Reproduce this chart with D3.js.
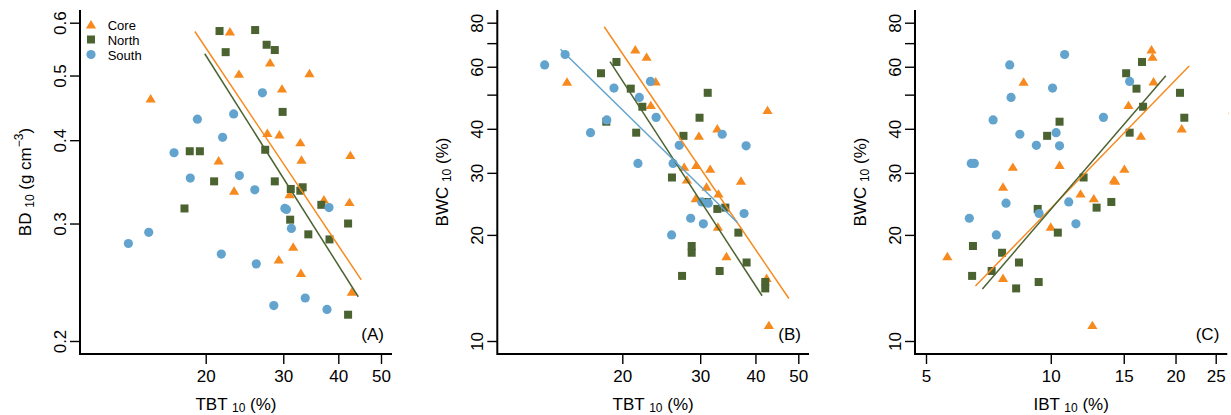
<!DOCTYPE html>
<html>
<head>
<meta charset="utf-8">
<script src="https://cdn.jsdelivr.net/npm/d3@7"></script>
<style>
body { margin: 0; background: #fff; }
svg { display: block; font-family: "Liberation Sans", Arial, Helvetica, sans-serif; }
</style>
</head>
<body>
<svg id="chart" width="1231" height="415"></svg>
<script>
// Core samples
const coreTBT = [21.4, 22.7, 15.0, 23.8, 23.2, 42.6, 32.8, 29.8, 27.6, 29.4, 31.6, 28.0, 37.1, 31.0, 33.0, 29.3, 32.9, 34.4, 42.4, 42.9]
const coreBD  = [0.373, 0.582, 0.462, 0.503, 0.336, 0.380, 0.397, 0.478, 0.410, 0.408, 0.277, 0.523, 0.326, 0.332, 0.374, 0.265, 0.253, 0.504, 0.323, 0.237]
const coreBWC = [67.2, 64.0, 54.4, 54.5, 46.7, 45.2, 40.1, 38.2, 31.2, 31.6, 30.8, 28.7, 28.5, 27.4, 26.2, 25.4, 21.1, 17.4, 15.1, 11.1]
const coreIBT = [17.5, 17.6, 8.6, 17.7, 15.4, 27.5, 20.7, 16.5, 8.1, 10.5, 15.05, 14.2, 14.3, 7.67, 11.8, 12.7, 10.0, 5.63, 7.67, 12.6]

// North samples
const northTBT = [21.5, 25.9, 22.2, 27.5, 27.3, 28.7, 28.7, 29.9, 18.4, 19.4, 20.9, 31.2, 31.1, 33.2, 17.9, 36.6, 42.1, 42.1, 34.2, 38.2, 32.8]
const northBD  = [0.583, 0.585, 0.542, 0.556, 0.387, 0.546, 0.347, 0.441, 0.385, 0.385, 0.347, 0.338, 0.304, 0.340, 0.316, 0.320, 0.300, 0.219, 0.289, 0.284, 0.336]
const northBWC = [39.0, 29.1, 46.2, 38.2, 15.3, 18.6, 17.8, 43.0, 41.9, 61.9, 52.0, 50.6, 24.8, 15.8, 57.5, 20.3, 14.7, 14.1, 23.9, 16.7, 23.7]
const northIBT = [15.5, 12.0, 16.7, 9.8, 6.46, 6.49, 7.63, 21.0, 10.5, 16.6, 16.1, 20.5, 14.0, 7.2, 15.2, 10.4, 9.35, 8.25, 12.9, 8.38, 9.3]

// South samples
const southTBT = [13.35, 14.85, 16.95, 18.45, 19.15, 21.85, 21.7, 23.15, 23.85, 25.85, 26.05, 26.9, 28.55, 30.25, 30.5, 31.3, 33.65, 38.1, 37.7]
const southBD  = [0.280, 0.291, 0.383, 0.351, 0.430, 0.404, 0.270, 0.438, 0.354, 0.337, 0.261, 0.471, 0.226, 0.316, 0.315, 0.295, 0.232, 0.317, 0.223]
const southBWC = [60.7, 65.0, 39.0, 42.4, 52.2, 49.1, 31.9, 54.5, 43.1, 20.0, 31.9, 35.9, 22.3, 24.8, 21.5, 24.6, 38.6, 35.8, 23.0]
const southIBT = [7.96, 10.8, 10.3, 7.26, 10.1, 8.02, 6.43, 15.5, 13.4, 7.39, 6.54, 9.23, 6.36, 11.05, 11.5, 7.80, 8.42, 10.5, 9.37]

// fitted lines, endpoints [x, y]
const fitCoreA  = [[18.9, 0.582], [45.1, 0.247]]
const fitNorthA = [[19.9, 0.539], [44.4, 0.233]]
const fitCoreB  = [[18.2, 77.9], [47.6, 13.2]]
const fitNorthB = [[18.76, 62.0], [41.4, 13.44]]
const fitSouthB = [[14.5, 67.3], [36.4, 21.7]]
const fitCoreC  = [[6.58, 14.32], [21.57, 60.3]]
const fitNorthC = [[6.84, 14.04], [18.95, 56.6]]

// ticks
const tbtTicks = [20, 30, 40, 50]
const ibtTicks = [5, 10, 15, 20, 25]
const bdTicks = [0.2, 0.3, 0.4, 0.5, 0.6]
const bwcTicks = [10, 20, 30, 40, 50, 60, 70, 80]
const bwcLabels = [10, 20, 30, 40, 60, 80]

const colors = { Core: "#f68a1e", North: "#4b6331", South: "#63a4ce" }

const groups = [
    { name: "Core", TBT: coreTBT, BD: coreBD, BWC: coreBWC, IBT: coreIBT },
    { name: "North", TBT: northTBT, BD: northBD, BWC: northBWC, IBT: northIBT },
    { name: "South", TBT: southTBT, BD: southBD, BWC: southBWC, IBT: southIBT }
]

const plotTop = 10, plotBottom = 354

const panels = [
    { tag: "(A)", xv: "TBT", yv: "BD", left: 80, right: 392, xDom: [20, 50], xRange: [205.7, 381], xTicks: tbtTicks,
      yDom: [0.2, 0.6], yTicks: bdTicks, yLabels: bdTicks, fits: [["Core", fitCoreA], ["North", fitNorthA]], legend: true },
    { tag: "(B)", xv: "TBT", yv: "BWC", left: 497.3, right: 809, xDom: [20, 50], xRange: [622.3, 798.3], xTicks: tbtTicks,
      yDom: [10, 80], yTicks: bwcTicks, yLabels: bwcLabels, fits: [["Core", fitCoreB], ["North", fitNorthB], ["South", fitSouthB]] },
    { tag: "(C)", xv: "IBT", yv: "BWC", left: 915, right: 1227.3, xDom: [5, 25], xRange: [926, 1215.7], xTicks: ibtTicks,
      yDom: [10, 80], yTicks: bwcTicks, yLabels: bwcLabels, fits: [["Core", fitCoreC], ["North", fitNorthC]] }
]

const svg = d3.select("#chart")

function drawMarker(sel, name) {
    if (name == "Core") sel.append("path").attr("d", "M0,-4.4L5.1,4L-5.1,4Z")
    else if (name == "North") sel.append("rect").attr("x", -4).attr("y", -4).attr("width", 8).attr("height", 8)
    else sel.append("circle").attr("r", 4.6)
    sel.attr("fill", colors[name])
}

panels.forEach((p, i) => {
    const x = d3.scaleLog().domain(p.xDom).range(p.xRange)
    const y = d3.scaleLog().domain(p.yDom).range([341, 22.7])
    const g = svg.append("g")

    g.append("clipPath").attr("id", "clip" + i).append("rect")
        .attr("x", p.left).attr("y", 0).attr("width", p.right - p.left + 1.2).attr("height", plotBottom)

    // axes
    const ax = g.append("g").attr("transform", `translate(0,${plotBottom})`)
        .call(d3.axisBottom(x).tickValues(p.xTicks).tickSize(10).tickFormat(d3.format("d")))
    ax.select(".domain").remove()
    ax.attr("font-size", 17).attr("font-family", null)
    ax.selectAll("line").attr("stroke-width", 1.4)
    ax.selectAll("text").attr("y", 28).attr("dy", 0).attr("fill", "#000")

    const ay = g.append("g").attr("transform", `translate(${p.left},0)`)
        .call(d3.axisLeft(y).tickValues(p.yTicks).tickSize(10).tickFormat(v => p.yLabels.includes(v) ? String(v) : ""))
    ay.select(".domain").remove()
    ay.attr("font-size", 17).attr("font-family", null)
    ay.selectAll("line").attr("stroke-width", 1.4)
    ay.selectAll("text").attr("x", null).attr("dy", 0).attr("text-anchor", "middle").attr("fill", "#000")
        .attr("transform", "translate(-14,0) rotate(-90)")

    g.append("path").attr("d", `M${p.left},${plotTop}V${plotBottom}H${p.right}`)
        .attr("fill", "none").attr("stroke", "#000").attr("stroke-width", 2)

    // titles
    const cx = (p.left + p.right) / 2
    const xt = g.append("text").attr("x", cx).attr("y", 409.5).attr("text-anchor", "middle").attr("font-size", 17)
    xt.append("tspan").text(p.xv + " ")
    xt.append("tspan").attr("font-size", 12).attr("dy", 2.5).text("10")
    xt.append("tspan").attr("dy", -2.5).text(" (%)")

    const yt = g.append("text").attr("transform", `translate(${p.left - 49},182) rotate(-90)`)
        .attr("text-anchor", "middle").attr("font-size", 17)
    yt.append("tspan").text(p.yv + " ")
    yt.append("tspan").attr("font-size", 12).attr("dy", 2.5).text("10")
    if (p.yv == "BD") {
        yt.append("tspan").attr("dy", -2.5).text(" (g cm")
        yt.append("tspan").attr("font-size", 12).attr("dy", -8.5).text("\u22123")
        yt.append("tspan").attr("dy", 8.5).text(")")
    } else {
        yt.append("tspan").attr("dy", -2.5).text(" (%)")
    }

    g.append("text").attr("x", p.right - 8).attr("y", 340).attr("text-anchor", "end").attr("font-size", 17).text(p.tag)

    // points
    const marks = g.append("g").attr("clip-path", `url(#clip${i})`)
    groups.forEach(grp => {
        const pts = d3.zip(grp[p.xv], grp[p.yv])
        marks.selectAll(null).data(pts).enter().append("g")
            .attr("transform", d => `translate(${x(d[0])},${y(d[1])})`)
            .each(function() { drawMarker(d3.select(this), grp.name) })
    })

    // fit lines
    const line = d3.line().x(d => x(d[0])).y(d => y(d[1]))
    p.fits.forEach(([name, pts]) => {
        marks.append("path").attr("d", line(pts)).attr("fill", "none")
            .attr("stroke", colors[name]).attr("stroke-width", 1.5)
    })

    if (p.legend) {
        groups.forEach((grp, k) => {
            const row = g.append("g").attr("transform", `translate(91,${24.5 + k * 15})`)
            drawMarker(row.append("g"), grp.name)
            row.append("text").attr("x", 16.7).attr("y", 5.2).attr("font-size", 13).text(grp.name)
        })
    }
})
</script>
</body>
</html>
